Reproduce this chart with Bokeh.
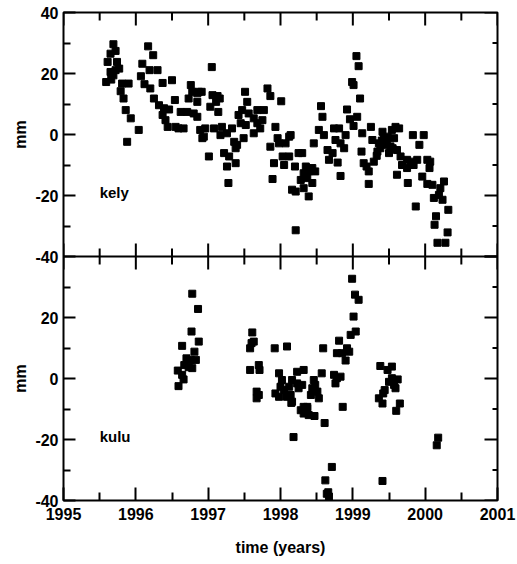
import math
from bokeh.plotting import figure
from bokeh.layouts import row
from bokeh.models import FixedTicker, Label, ColumnDataSource, Range1d, Span, Arrow
from bokeh.core.properties import value
from bokeh.embed import file_html
from bokeh.resources import INLINE

# ---------------- data ----------------
kely_t = [1995.69, 1995.72, 1995.65, 1995.61, 1995.74, 1995.77, 1995.65, 1995.69, 1995.72, 1995.59,
          1995.66, 1995.81, 1995.90, 1995.79, 1995.83, 1995.86, 1995.93, 1996.04, 1995.88, 1996.17,
          1996.24, 1996.09, 1996.19, 1996.30, 1996.07, 1996.12, 1996.20, 1996.37, 1996.50, 1996.25,
          1996.32, 1996.39, 1996.46, 1996.54, 1996.37, 1996.41, 1996.44, 1996.55, 1996.59, 1996.66,
          1996.62, 1996.71, 1996.76, 1996.78, 1996.73, 1996.80, 1996.85, 1997.05, 1996.87, 1996.91,
          1997.06, 1997.13, 1997.16, 1997.11, 1997.03, 1997.14, 1996.85, 1996.85, 1996.89, 1996.96,
          1996.94, 1996.92, 1997.08, 1997.19, 1997.17, 1997.26, 1997.33, 1997.36, 1997.40, 1997.38,
          1997.01, 1997.22, 1997.29, 1997.26, 1997.38, 1997.28, 1997.51, 1997.54, 1997.47, 1997.42,
          1997.56, 1997.63, 1997.68, 1997.77, 1997.75, 1997.68, 1997.72, 1997.63, 1997.52, 1997.45,
          1997.49, 1997.82, 1997.86, 1998.01, 1997.93, 1997.86, 1997.96, 1997.98, 1998.07, 1998.12,
          1998.14, 1997.91, 1997.89, 1998.03, 1998.05, 1998.12, 1998.20, 1998.25, 1998.30, 1998.32,
          1998.16, 1998.21, 1998.28, 1998.21, 1998.35, 1998.39, 1998.44, 1998.48, 1998.37, 1998.44,
          1998.39, 1998.32, 1998.46, 1998.56, 1998.58, 1998.53, 1998.60, 1998.65, 1998.67, 1998.72,
          1998.79, 1998.83, 1998.74, 1998.81, 1998.76, 1998.83, 1998.88, 1998.90, 1998.92, 1998.96,
          1999.01, 1999.06, 1998.99, 1999.01, 1999.05, 1999.08, 1999.10, 1999.13, 1999.12, 1999.15,
          1999.19, 1999.22, 1999.22, 1999.25, 1999.27, 1999.29, 1999.34, 1999.41, 1999.36, 1999.43,
          1999.45, 1999.48, 1999.50, 1999.54, 1999.59, 1999.64, 1999.57, 1999.61, 1999.66, 1999.68,
          1999.61, 1999.76, 1999.83, 1999.98, 1999.92, 1999.75, 1999.80, 1999.84, 1999.89, 1999.75,
          1999.82, 2000.03, 2000.07, 2000.06, 1999.96, 2000.03, 2000.10, 2000.26, 2000.21, 2000.19,
          2000.12, 2000.24, 1999.87, 2000.32, 2000.15, 2000.13, 2000.31, 2000.17, 2000.28, 1999.40,
          1999.47, 1999.52, 1999.55, 1999.38, 1999.33]
kely_mm = [29.6, 27.4, 26.5, 23.8, 23.8, 21.6, 20.5, 19.4, 21.1, 17.2,
           18.0, 16.7, 16.7, 14.2, 11.8, 8.0, 5.3, 1.5, -2.4, 28.9,
           26.0, 23.2, 21.1, 21.1, 19.1, 16.5, 15.1, 16.9, 17.8, 11.8,
           9.6, 8.6, 8.2, 11.3, 6.4, 4.7, 2.5, 2.5, 2.0, 2.0,
           7.4, 7.4, 16.2, 14.0, 11.8, 6.9, 13.5, 22.1, 14.0, 14.0,
           12.9, 12.6, 11.8, 10.7, 9.1, 7.4, 10.7, 5.8, 1.5, 2.0,
           -0.7, -1.2, 2.0, 2.5, -0.2, 0.4, 2.0, -2.4, -3.4, -4.5,
           -7.2, -6.1, -7.2, -10.5, -9.4, -15.9, 14.0, 10.7, 8.0, 6.4,
           6.9, 5.3, 8.0, 8.0, 4.7, 3.7, 2.0, 0.4, 3.1, 3.7,
           -1.2, 15.1, 12.6, 10.9, 2.5, -4.0, -1.2, -2.9, -2.9, -0.7,
           -0.2, -9.4, -14.6, -7.2, -10.0, -7.2, -10.5, -6.1, -6.1, -12.7,
           -18.1, -18.7, -14.9, -31.4, -10.5, -12.1, -11.0, -12.1, -14.3, -15.9,
           -20.3, -17.6, -2.9, 9.3, 5.8, 1.5, -0.2, -5.1, -8.3, -6.1,
           -9.2, -13.6, 2.0, 2.0, -1.8, -2.9, -4.5, -0.2, 8.2, 5.0,
           2.8, 5.8, 17.2, 16.2, 25.7, 22.4, 11.8, 0.4, -5.6, -9.4,
           -10.5, -12.1, -16.2, 2.5, -1.8, -8.9, -5.6, 0.9, -2.9, -1.2,
           -3.4, -0.7, -6.1, 1.5, 2.5, 2.0, -1.2, -5.1, -7.2, -10.0,
           -13.2, -15.9, -0.2, -0.2, -3.4, -8.3, -8.9, -10.0, -8.3, -11.0,
           -10.0, -8.3, -8.9, -11.0, -13.8, -16.2, -16.5, -15.4, -17.6, -19.8,
           -20.8, -21.4, -23.6, -24.7, -26.8, -29.6, -32.1, -35.5, -35.5, -2.0,
           -2.2, -3.9, -4.5, -4.5, -7.0]

kulu_t = [1996.78, 1996.86, 1996.77, 1996.64, 1996.87, 1996.81, 1996.70, 1996.76, 1996.83, 1996.67,
          1996.73, 1996.78, 1996.58, 1996.64, 1996.66, 1996.59,
          1997.61, 1997.60, 1997.63, 1997.58, 1997.58, 1997.70, 1997.71, 1997.67, 1997.70, 1997.67,
          1998.99, 1999.03, 1999.08, 1999.01, 1999.04, 1998.97, 1998.81, 1998.92, 1998.95, 1998.78,
          1998.85, 1998.90, 1998.59, 1997.92, 1998.09, 1997.98, 1998.02, 1998.00, 1998.05, 1997.93,
          1997.98, 1998.12, 1998.16, 1998.23, 1998.32, 1998.23, 1998.30, 1998.25, 1998.14, 1998.09,
          1998.16, 1998.46, 1998.48, 1998.44, 1998.51, 1998.42, 1998.53, 1998.57, 1998.74, 1998.78,
          1998.83, 1998.76, 1998.32, 1998.37,
          1998.15, 1998.28, 1998.32, 1998.37, 1998.39, 1998.47, 1998.61, 1998.86, 1998.18, 1998.71,
          1998.62, 1998.66, 1998.67, 1998.64,
          1999.38, 1999.48, 1999.54, 1999.50, 1999.54, 1999.62, 1999.57, 1999.59, 1999.44, 1999.42,
          1999.36, 1999.41, 1999.65, 1999.60, 2000.18, 2000.16, 1999.41]
kulu_mm = [27.8, 22.8, 15.4, 10.7, 12.1, 8.8, 6.6, 6.1, 6.1, 4.4,
           3.7, 3.4, 2.6, 1.2, -0.3, -2.5,
           15.1, 11.6, 12.1, 9.9, 2.8, 4.4, 2.8, -4.3, -5.4, -6.5,
           32.7, 27.5, 25.8, 20.3, 15.4, 14.3, 12.4, 9.9, 8.8, 8.3,
           8.3, 5.9, 9.9, 9.9, 10.5, 1.7, -0.5, -2.7, -3.8, -4.9,
           -6.0, -2.7, -0.5, 2.2, 2.8, -1.6, -2.1, -3.2, -5.4, -6.0,
           -7.6, -0.5, -2.1, -3.2, -4.3, -5.4, -6.5, 1.7, 1.2, 0.1,
           0.6, -1.6, -9.3, -9.3,
           -8.0, -10.4, -11.5, -9.8, -12.0, -12.3, -14.6, -9.3, -19.2, -29.0,
           -33.4, -37.3, -38.7, -37.8,
           4.1, 2.8, 3.9, -1.1, 0.1, -0.3, -2.1, -3.2, -3.8, -4.9,
           -6.5, -8.2, -8.2, -10.6, -19.4, -21.9, -33.6]

x_ticks = [1995.0, 1996.0, 1997.0, 1998.0, 1999.0, 2000.0, 2001.0]
x_tick_labels = ["1995", "1996", "1997", "1998", "1999", "2000", "2001"]
x_minor = [1995.5, 1996.5, 1997.5, 1998.5, 1999.5, 2000.5]
y_ticks = [-40.0, -20.0, 0.0, 20.0, 40.0]
y_tick_labels = ["-40", "-20", "0", "20", "40"]
y_minor = [-30.0, -10.0, 10.0, 30.0]
station_names = ["kely", "kulu"]
y_title = "mm"
x_title = "time (years)"

X_LO, X_HI = 1995.0, 2001.0
Y_LO, Y_HI = -40.0, 40.0
SPAN = Y_HI - Y_LO  # each panel spans 80 mm

FONT = "Liberation Sans"
FS = "16px"

# layout sizes (px)
LAB_W = 31
MAIN_W = 517 - LAB_W
H = 564
B_TOP, B_BOT, B_LEFT, B_RIGHT = 12, 64, 32, 20
FRAME_W = MAIN_W - B_LEFT - B_RIGHT
FRAME_H = H - B_TOP - B_BOT
yr_per_px = (X_HI - X_LO) / FRAME_W
mm_per_px = (2 * SPAN) / FRAME_H

# ---------------- main frame: two stacked panels ----------------
p = figure(width=MAIN_W, height=H,
           x_range=Range1d(X_LO, X_HI), y_range=Range1d(Y_LO - SPAN, Y_HI),
           output_backend="svg", toolbar_location=None,
           min_border_left=B_LEFT, min_border_right=B_RIGHT,
           min_border_top=B_TOP, min_border_bottom=B_BOT)
p.extra_y_ranges = {"kulu": Range1d(Y_LO, Y_HI + SPAN)}
p.xgrid.visible = False
p.ygrid.visible = False
p.outline_line_color = "black"
p.outline_line_width = 2
p.background_fill_color = "white"
p.border_fill_color = "white"

xa = p.xaxis[0]
xa.ticker = FixedTicker(ticks=x_ticks, minor_ticks=x_minor)
xa.major_label_overrides = {v: s for v, s in zip(x_ticks, x_tick_labels)}
xa.axis_line_color = None
xa.major_tick_line_color = "black"
xa.minor_tick_line_color = "black"
xa.major_tick_line_width = 2
xa.minor_tick_line_width = 2
xa.major_tick_in = 13
xa.major_tick_out = 0
xa.minor_tick_in = 8
xa.minor_tick_out = 0
xa.major_label_text_font = FONT
xa.major_label_text_font_style = "bold"
xa.major_label_text_font_size = FS
xa.major_label_text_color = "black"
xa.major_label_standoff = 7
xa.axis_label = x_title
xa.axis_label_text_font = FONT
xa.axis_label_text_font_style = "bold"
xa.axis_label_text_font_size = FS
xa.axis_label_text_color = "black"
xa.axis_label_standoff = 16

ya = p.yaxis[0]
kulu_shift = -SPAN
ytick_pos = list(y_ticks) + [v + kulu_shift for v in y_ticks if v < Y_HI]
ytick_txt = list(y_tick_labels) + [s for v, s in zip(y_ticks, y_tick_labels) if v < Y_HI]
yminor_pos = list(y_minor) + [v + kulu_shift for v in y_minor]
ya.ticker = FixedTicker(ticks=ytick_pos, minor_ticks=yminor_pos)
ya.major_label_overrides = {v: s for v, s in zip(ytick_pos, ytick_txt)}
ya.axis_line_color = None
ya.major_tick_line_color = "black"
ya.minor_tick_line_color = "black"
ya.major_tick_line_width = 2
ya.minor_tick_line_width = 2
ya.major_tick_in = 12
ya.major_tick_out = 0
ya.minor_tick_in = 7
ya.minor_tick_out = 0
ya.major_label_text_font = FONT
ya.major_label_text_font_style = "bold"
ya.major_label_text_font_size = FS
ya.major_label_text_color = "black"
ya.major_label_standoff = 5

# boundary between the two panels
p.add_layout(Span(location=Y_LO, dimension="width", line_color="black", line_width=2))

# data
src_kely = ColumnDataSource(dict(t=kely_t, mm=kely_mm))
src_kulu = ColumnDataSource(dict(t=kulu_t, mm=kulu_mm))
p.scatter("t", "mm", source=src_kely, marker="square", size=7,
          fill_color="black", line_color="black")
p.scatter("t", "mm", source=src_kulu, y_range_name="kulu", marker="square", size=7,
          fill_color="black", line_color="black")

# ---- remaining inward tick marks, as head-less arrow annotations ----
def tick(x0, y0, x1, y1, rng):
    p.add_layout(Arrow(x_start=x0, y_start=y0, x_end=x1, y_end=y1, end=None,
                       y_range_name=rng, line_color="black", line_width=2))

for rng in ["default", "kulu"]:
    for xs, ln in [(x_ticks, 13), (x_minor, 8)]:
        h = ln * mm_per_px
        for x in xs:
            tick(x, Y_HI, x, Y_HI - h, rng)          # top edge, pointing down
            if rng == "default":
                tick(x, Y_LO, x, Y_LO + h, rng)      # boundary, pointing up
    for ys, ln in [(y_ticks, 13), (y_minor, 5)]:
        w = ln * yr_per_px
        for y in ys:
            tick(X_HI, y, X_HI - w, y, rng)          # right edge, pointing left

for name, rng in zip(station_names, ["default", "kulu"]):
    p.add_layout(Label(x=1995.5, y=-19, y_range_name=rng, text=name, text_font=FONT,
                       text_font_style="bold", text_font_size="15px",
                       text_baseline="middle", text_align="left", text_color="black"))

# ---------------- narrow strip for the two y titles ----------------
lab = figure(width=LAB_W, height=H, x_range=Range1d(0, LAB_W),
             y_range=Range1d(Y_LO - SPAN, Y_HI),
             output_backend="svg", toolbar_location=None,
             min_border_left=0, min_border_right=0,
             min_border_top=B_TOP, min_border_bottom=B_BOT)
lab.extra_y_ranges = {"kulu": Range1d(Y_LO, Y_HI + SPAN)}
lab.axis.visible = False
lab.xgrid.visible = False
lab.ygrid.visible = False
lab.outline_line_color = None
lab.background_fill_color = "white"
lab.border_fill_color = "white"
for rng in ["default", "kulu"]:
    lab.text(x=[20], y=[0], text=[y_title], y_range_name=rng, angle=math.pi / 2,
             text_font=value(FONT), text_font_style="bold", text_font_size="16px",
             text_align="center", text_baseline="middle", text_color="black")

layout = row(lab, p, spacing=0)
open("out.html", "w").write(file_html(layout, INLINE))
